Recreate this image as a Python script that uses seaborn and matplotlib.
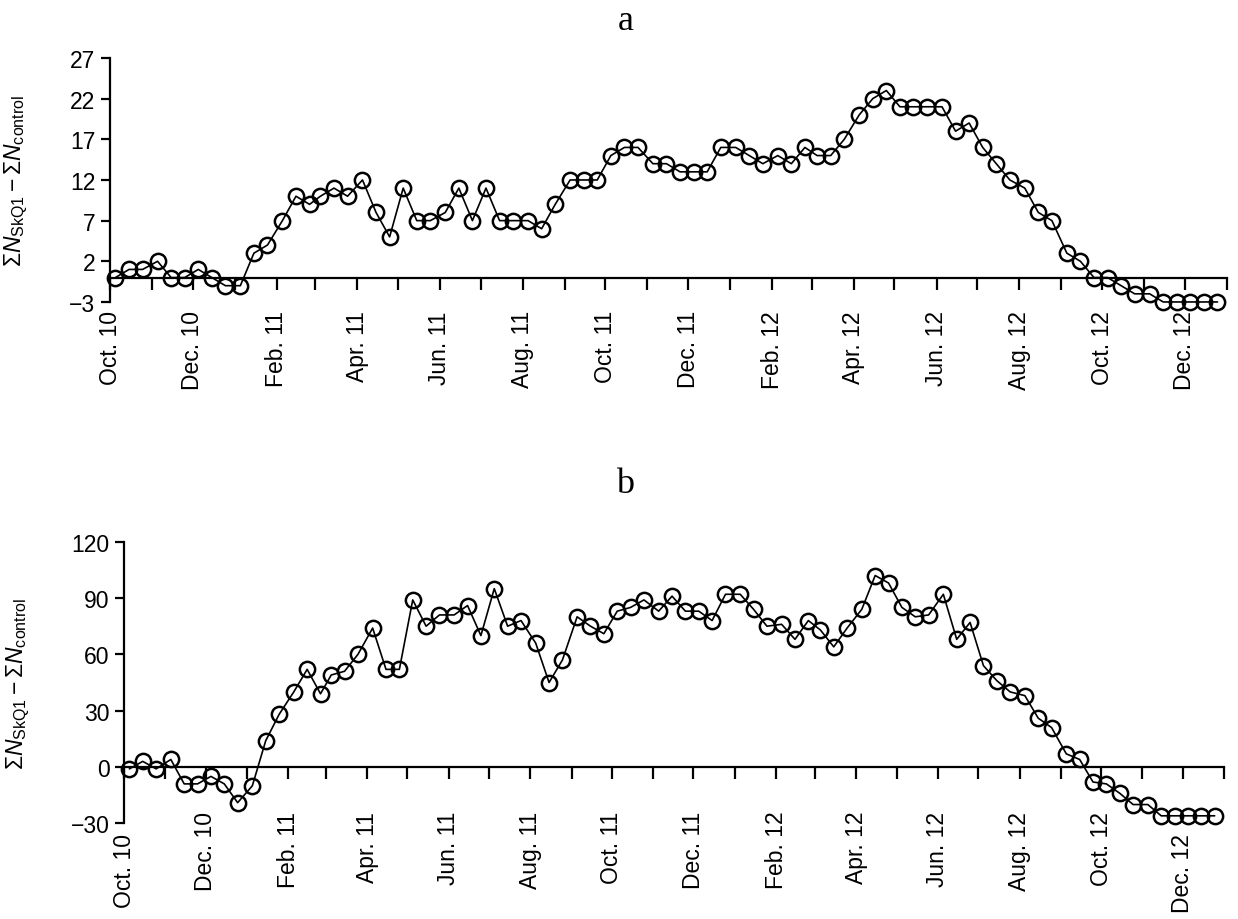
import pandas as pd
import numpy as np
import seaborn as sns
import matplotlib.pyplot as plt
from matplotlib.transforms import ScaledTranslation

# ---------------------------------------------------------
# DATA (one point per 10-day period, Oct 2010 - Dec 2012)
# ---------------------------------------------------------
dekad_days = [4, 14, 24]

panel_a = [0, 1, 1, 2, 0, 0, 1, 0, -1, -1,
           3, 4, 7, 10, 9, 10, 11, 10, 12, 8,
           5, 11, 7, 7, 8, 11, 7, 11, 7, 7,
           7, 6, 9, 12, 12, 12, 15, 16, 16, 14,
           14, 13, 13, 13, 16, 16, 15, 14, 15, 14,
           16, 15, 15, 17, 20, 22, 23, 21, 21, 21,
           21, 18, 19, 16, 14, 12, 11, 8, 7, 3,
           2, 0, 0, -1, -2, -2, -3, -3, -3, -3, -3]

panel_b = [-1, 3, -1, 4, -9, -9, -5, -9, -19, -10,
           14, 28, 40, 52, 39, 49, 51, 60, 74, 52,
           52, 89, 75, 81, 81, 86, 70, 95, 75, 78,
           66, 45, 57, 80, 75, 71, 83, 85, 89, 83,
           91, 83, 83, 78, 92, 92, 84, 75, 76, 68,
           78, 73, 64, 74, 84, 102, 98, 85, 80, 81,
           92, 68, 77, 54, 46, 40, 38, 26, 21, 7,
           4, -8, -9, -14, -20, -20, -26, -26, -26, -26, -26]

month_labels = ["Oct. 10", "", "Dec. 10", "", "Feb. 11", "", "Apr. 11", "",
                "Jun. 11", "", "Aug. 11", "", "Oct. 11", "", "Dec. 11", "",
                "Feb. 12", "", "Apr. 12", "", "Jun. 12", "", "Aug. 12", "",
                "Oct. 12", "", "Dec. 12", ""]

yticks_a = [-3, 2, 7, 12, 17, 22, 27]
yticks_b = [-30, 0, 30, 60, 90, 120]

months = pd.date_range("2010-10-01", "2012-12-01", freq="MS")
dates = [m + pd.Timedelta(days=d) for m in months for d in dekad_days]
month_ticks = pd.date_range("2010-10-01", "2013-01-01", freq="MS")

df = pd.DataFrame({"date": dates, "a": panel_a, "b": panel_b})

# ---------------------------------------------------------
# STYLE
# ---------------------------------------------------------
sns.set_style("ticks")
plt.rcParams["font.family"] = ["Liberation Sans", "DejaVu Sans"]
plt.rcParams["mathtext.fontset"] = "custom"
plt.rcParams["mathtext.rm"] = "Liberation Sans"
plt.rcParams["mathtext.it"] = "Liberation Sans:italic"
for key in ["text.color", "axes.labelcolor", "xtick.color", "ytick.color",
            "axes.edgecolor"]:
    plt.rcParams[key] = "black"

fig = plt.figure(figsize=(12.38, 9.2), dpi=100)
ax_a = fig.add_axes([0.0889, 0.6707, 0.9022, 0.2652])
ax_b = fig.add_axes([0.1002, 0.1040, 0.8885, 0.3061])

ylabel = r"$\Sigma N_{\mathrm{SkQ1}} - \Sigma N_{\mathrm{control}}$"

panels = [(ax_a, "a", yticks_a, 15, -0.072),
          (ax_b, "b", yticks_b, 23, -0.084)]

for ax, col, yt, pad, lab_x in panels:
    sns.lineplot(data=df, x="date", y=col, ax=ax, color="black",
                 linewidth=1.2, marker="o", markersize=11,
                 markerfacecolor="none", markeredgecolor="black",
                 markeredgewidth=1.8, clip_on=False)
    ax.set_xlim(month_ticks[0], month_ticks[-1])
    ax.set_ylim(yt[0], yt[-1])
    ax.set_yticks(yt)
    ax.set_xticks(month_ticks)
    ax.set_xticklabels(month_labels)

    ax.spines["top"].set_visible(False)
    ax.spines["right"].set_visible(False)
    ax.spines["bottom"].set_position(("data", 0))
    for s in ["left", "bottom"]:
        ax.spines[s].set_linewidth(1.6)

    ax.tick_params(axis="x", direction="out", length=8.5, width=1.6,
                   pad=pad, labelsize=16.5, labelrotation=90)
    ax.tick_params(axis="y", direction="out", length=6.5, width=1.6,
                   pad=4, labelsize=16.5)

    ax.set_xlabel("")
    ax.set_ylabel(ylabel, fontsize=16.5)
    ax.yaxis.set_label_coords(lab_x, 0.5)

# panel b: first and last month labels sit lower
fig.canvas.draw()
shift = ScaledTranslation(0, -22 / 100, fig.dpi_scale_trans)
for i in [0, 26]:
    lab = ax_b.xaxis.get_major_ticks()[i].label1
    lab.set_transform(lab.get_transform() + shift)

fig.text(0.505, 1 - 22 / 920, "a", family="Liberation Serif",
         fontsize=26, ha="center", va="center")
fig.text(0.505, 1 - 485 / 920, "b", family="Liberation Serif",
         fontsize=26, ha="center", va="center")

plt.savefig("out.png", dpi=100)
